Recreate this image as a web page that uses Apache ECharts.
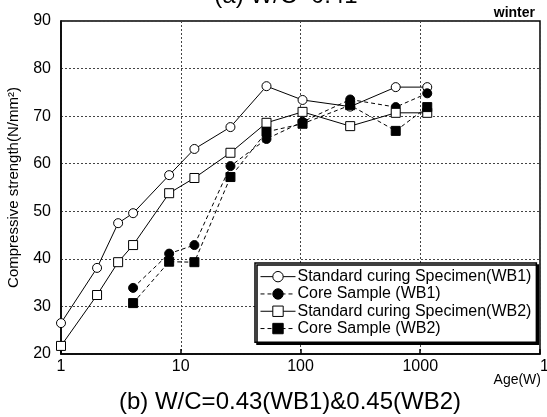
<!DOCTYPE html>
<html><head><meta charset="utf-8">
<script src="https://cdn.jsdelivr.net/npm/echarts@6/dist/echarts.min.js"></script>
<style>html,body{margin:0;padding:0;background:#fff}#c{width:547px;height:417px}</style>
</head><body><div id="c"></div>
<script>
// Ages in weeks
const ages = [1, 2, 3, 4, 8, 13, 26, 52, 104, 260, 624, 1144];
const coreAges = [4, 8, 13, 26, 52, 104, 260, 624, 1144];
// Compressive strength (N/mm2)
const stdWB1 = [26.5, 38.1, 47.5, 49.6, 57.6, 63.1, 67.7, 76.3, 73.4, 72.0, 76.1, 76.1];
const coreWB1 = [33.9, 41.1, 42.9, 59.5, 65.2, 68.8, 73.5, 71.9, 74.8];
const stdWB2 = [21.7, 32.4, 39.3, 42.9, 53.8, 57.0, 62.3, 68.6, 70.9, 67.9, 70.7, 70.7];
const coreWB2 = [30.7, 39.4, 39.3, 57.2, 66.7, 68.4, 72.3, 66.9, 71.9];
const names = ['Standard curing Specimen(WB1)', 'Core Sample (WB1)', 'Standard curing Specimen(WB2)', 'Core Sample (WB2)'];
const xMin = 1, xMax = 10000;
const yMin = 20, yMax = 90, yStep = 10;

const FONT = 'Liberation Sans, Arial, sans-serif';
const pairs = (xs, ys) => xs.map((x, i) => [x, ys[i]]);

function mk(name, data, symbol, filled, dashed) {
  return {
    name, type: 'line', data, symbol, symbolSize: 9,
    lineStyle: { color: '#000', width: 1, type: dashed ? [4, 3] : 'solid' },
    itemStyle: { color: filled ? '#000' : '#fff', borderColor: '#000', borderWidth: 1 },
    emphasis: { disabled: true }, animation: false
  };
}

const chart = echarts.init(document.getElementById('c'), null, { renderer: 'canvas' });
chart.setOption({
  backgroundColor: '#fff',
  animation: false,
  grid: { left: 61, right: 7, top: 21, bottom: 63, outerBoundsMode: 'none', containLabel: false, show: true, borderColor: '#000', borderWidth: 1.5, backgroundColor: 'transparent' },
  xAxis: {
    type: 'log', logBase: 10, min: xMin, max: xMax,
    axisLine: { show: true, lineStyle: { color: '#000', width: 1.5 } },
    axisTick: { show: true, inside: true, length: 5, lineStyle: { color: '#000', width: 1.5 } },
    minorTick: { show: false },
    axisLabel: { fontSize: 16, fontFamily: FONT, color: '#000', margin: 5, alignMaxLabel: 'left', formatter: v => String(Math.round(v)) },
    splitLine: { show: true, lineStyle: { color: '#444', type: [2, 2], width: 1 } }
  },
  yAxis: {
    type: 'value', min: yMin, max: yMax, interval: yStep,
    name: 'Compressive strength(N/mm²)', nameLocation: 'middle', nameGap: 40,
    nameTextStyle: { fontSize: 15, fontFamily: FONT, color: '#000' },
    axisLine: { show: true, lineStyle: { color: '#000', width: 1.5 } },
    axisTick: { show: false },
    axisLabel: { fontSize: 16, fontFamily: FONT, color: '#000', margin: 10 },
    splitLine: { show: true, lineStyle: { color: '#444', type: [2, 2], width: 1 } }
  },
  legend: {
    orient: 'vertical', left: 255, top: 263,
    padding: [5, 5, 5, 5],
    itemWidth: 35, itemHeight: 13, itemGap: 0,
    lineStyle: { width: 1 },
    itemStyle: { borderWidth: 1 },
    textStyle: { fontSize: 16, fontFamily: FONT, color: '#000', lineHeight: 17.3, padding: [0, 0, 0, -3] },
    backgroundColor: '#fff', borderColor: '#000', borderWidth: 1.5, borderRadius: 0,
    shadowColor: '#000', shadowOffsetX: 2, shadowOffsetY: 2, shadowBlur: 0,
    data: names, selectedMode: false
  },
  graphic: [
    { type: 'text', x: 286, y: -4, silent: true, style: { text: '(a) W/C=0.41', font: '24px ' + FONT, fill: '#000', align: 'center', verticalAlign: 'middle' } },
    { type: 'text', x: 535, y: 13, silent: true, style: { text: 'winter', font: 'bold 14px ' + FONT, fill: '#000', align: 'right', verticalAlign: 'middle' } },
    { type: 'text', x: 541, y: 380, silent: true, style: { text: 'Age(W)', font: '14px ' + FONT, fill: '#000', align: 'right', verticalAlign: 'middle' } },
    { type: 'text', x: 290, y: 402, silent: true, style: { text: '(b) W/C=0.43(WB1)&0.45(WB2)', font: '24px ' + FONT, fill: '#000', align: 'center', verticalAlign: 'middle' } }
  ],
  series: [
    mk(names[0], pairs(ages, stdWB1), 'circle', false, false),
    mk(names[1], pairs(coreAges, coreWB1), 'circle', true, true),
    mk(names[2], pairs(ages, stdWB2), 'rect', false, false),
    mk(names[3], pairs(coreAges, coreWB2), 'rect', true, true)
  ]
});
</script></body></html>
